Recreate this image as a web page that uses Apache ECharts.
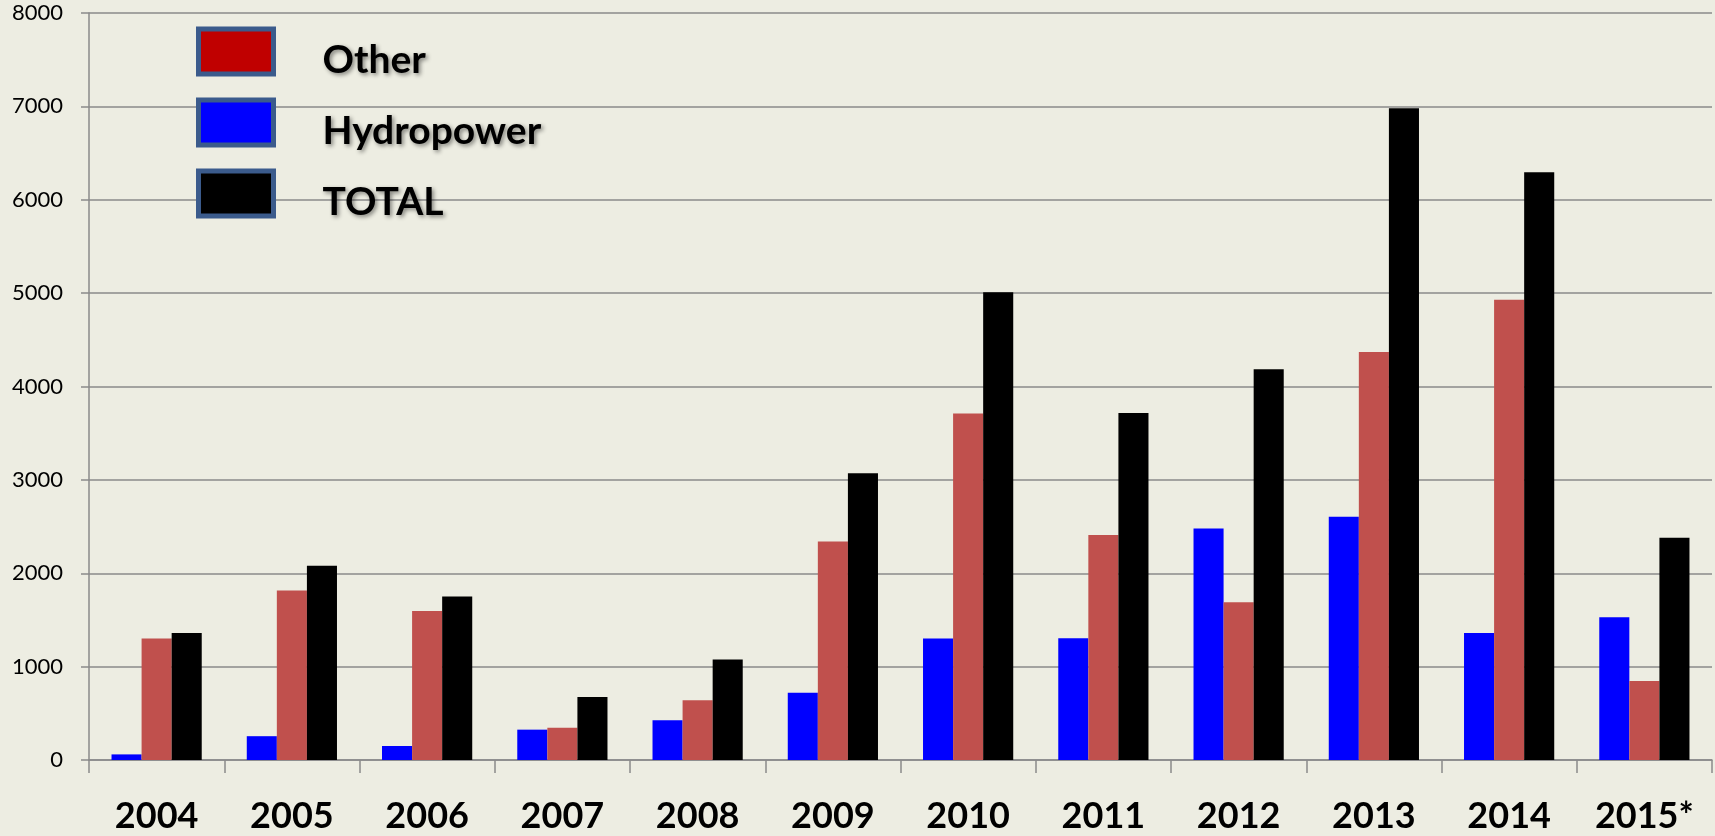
<!DOCTYPE html>
<html>
<head>
<meta charset="utf-8">
<script src="https://cdn.jsdelivr.net/npm/echarts@6/dist/echarts.min.js"></script>
<style>
html,body{margin:0;padding:0;background:#edede2;}
#chart{width:1715px;height:836px;}
</style>
</head>
<body>
<div id="chart"></div>
<script>
const categories = ['2004','2005','2006','2007','2008','2009','2010','2011','2012','2013','2014','2015*'];
const hydropower = [60, 255, 150, 325, 425, 720, 1300, 1305, 2480, 2605, 1360, 1530];
const other = [1300, 1815, 1595, 345, 640, 2340, 3710, 2410, 1690, 4370, 4930, 845];
const total = [1360, 2080, 1750, 675, 1075, 3070, 5010, 3715, 4185, 6980, 6295, 2380];
const yTicks = { min: 0, max: 8000, interval: 1000 };

const chart = echarts.init(document.getElementById('chart'));
const gridColor = '#8a8a8a';
chart.setOption({
  backgroundColor: '#edede2',
  animation: false,
  textStyle: { fontFamily: 'Lato' },
  grid: { left: 89, right: 3, top: 13, bottom: 76, containLabel: false },
  legend: {
    orient: 'vertical',
    left: 191,
    top: 18,
    itemWidth: 75,
    itemHeight: 45,
    itemGap: 14,
    icon: 'rect',
    selectedMode: false,
    itemStyle: { borderColor: '#3b5b8c', borderWidth: 5 },
    formatter: '{t|{name}}',
    textStyle: {
      fontFamily: 'Lato',
      fontWeight: 'bold',
      fontSize: 39,
      color: '#000',
      rich: {
        t: {
          fontFamily: 'Lato',
          fontWeight: 'bold',
          fontSize: 39,
          lineHeight: 40,
          color: '#000',
          padding: [18, 0, 0, 44],
          textShadowColor: 'rgba(0,0,0,0.45)',
          textShadowBlur: 4,
          textShadowOffsetX: 2,
          textShadowOffsetY: 2
        }
      }
    },
    data: [
      { name: 'Other', itemStyle: { color: '#C00000' } },
      { name: 'Hydropower', itemStyle: { color: '#0000FF' } },
      { name: 'TOTAL', itemStyle: { color: '#000000' } }
    ]
  },
  xAxis: {
    type: 'category',
    data: categories,
    axisLine: { show: true, lineStyle: { color: gridColor, width: 1.5 } },
    axisTick: { show: true, length: 13, lineStyle: { color: gridColor, width: 1.5 } },
    axisLabel: {
      margin: 38,
      fontFamily: 'Lato',
      fontWeight: 'bold',
      fontSize: 36,
      color: '#000'
    },
    splitLine: { show: false }
  },
  yAxis: {
    type: 'value',
    min: yTicks.min,
    max: yTicks.max,
    interval: yTicks.interval,
    axisLine: { show: true, lineStyle: { color: gridColor, width: 1.5 } },
    axisTick: { show: true, length: 8, lineStyle: { color: gridColor, width: 1.5 } },
    axisLabel: { margin: 26, fontFamily: 'Lato', fontSize: 22, color: '#000', formatter: function (v) { return String(v); } },
    splitLine: { show: true, lineStyle: { color: gridColor, width: 1.5 } }
  },
  series: [
    { name: 'Hydropower', type: 'bar', data: hydropower, barGap: '0%', barCategoryGap: '33.3%', itemStyle: { color: '#0000FF' } },
    { name: 'Other', type: 'bar', data: other, barGap: '0%', barCategoryGap: '33.3%', itemStyle: { color: '#C0504D' } },
    { name: 'TOTAL', type: 'bar', data: total, barGap: '0%', barCategoryGap: '33.3%', itemStyle: { color: '#000000' } }
  ]
});
</script>
</body>
</html>
